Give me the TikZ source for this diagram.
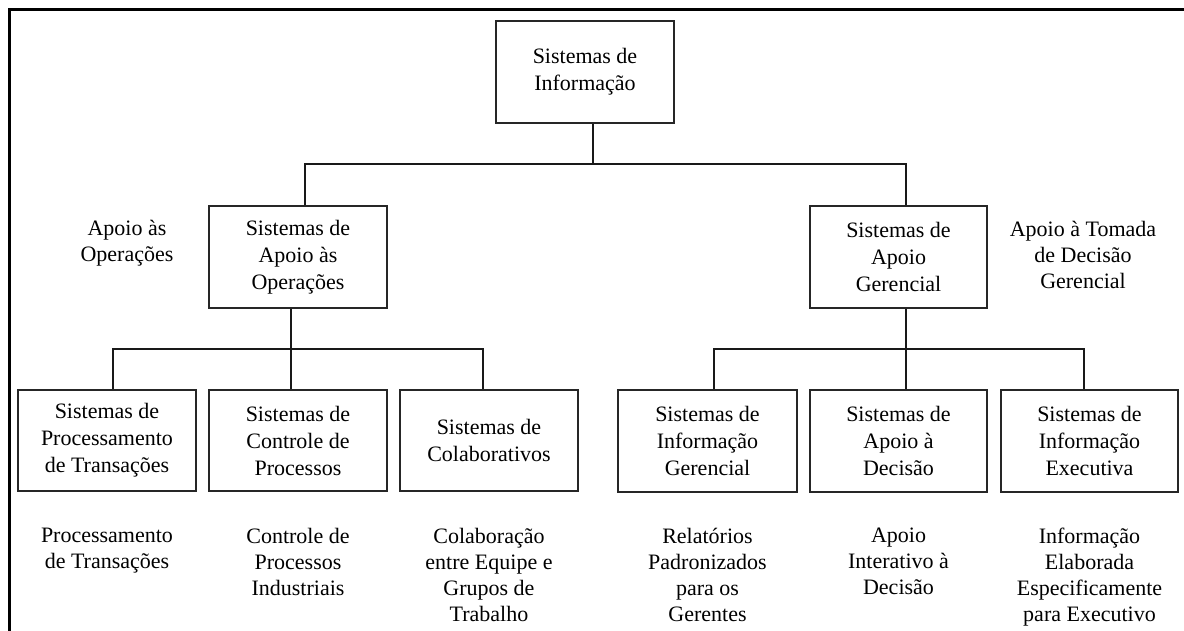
\documentclass[tikz,border=0pt]{standalone}
\usepackage{fontspec}
\setmainfont{Liberation Serif}
\usetikzlibrary{calc}
\begin{document}
\begin{tikzpicture}[x=1pt,y=-1pt,
  sysbox/.style={draw=black!85, line width=1.6pt, fill=white,
    minimum width=178pt, minimum height=102pt, inner sep=0pt,
    align=center, font=\fontsize{22}{27}\selectfont},
  note/.style={inner sep=0pt, align=center, font=\fontsize{22}{26}\selectfont},
  link/.style={line width=1.6pt, black!90}]
\useasboundingbox (0,0) rectangle (1184,631);
% frame: left and top edges, running off the page at bottom and right
\draw[line width=3pt] (9.5,631) -- (9.5,10) -- (1184,10);

% boxes
\node[sysbox] (top) at (585,72) {Sistemas de\\Informação};
\node[sysbox] (opA) at (298,257) {Sistemas de\\Apoio às\\Operações};
\node[sysbox, minimum width=177pt] (ger) at (898.5,257) {Sistemas de\\Apoio\\Gerencial};
\node[sysbox, minimum height=101pt] (b1) at (107,440.5) {Sistemas de\\Processamento\\de Transações};
\node[sysbox, minimum height=101pt] (b2) at (298,440.5) {Sistemas de\\Controle de\\Processos};
\node[sysbox, minimum height=101pt] (b3) at (489,440.5) {Sistemas de\\Colaborativos};
\node[sysbox, minimum width=179pt] (b4) at (707.5,441) {Sistemas de\\Informação\\Gerencial};
\node[sysbox, minimum width=177pt] (b5) at (898.5,441) {Sistemas de\\Apoio à\\Decisão};
\node[sysbox, minimum width=177pt] (b6) at (1089.5,441) {Sistemas de\\Informação\\Executiva};

% side labels
\node[note] (lblOp) at (127,243) {Apoio às\\Operações};
\node[note] (lblGer) at (1083,255) {Apoio à Tomada\\de Decisão\\Gerencial};

% descriptions under the lower boxes
\node[note, anchor=north] (d1) at (107,528) {Processamento\\de Transações};
\node[note, anchor=north] (d2) at (298,528) {Controle de\\Processos\\Industriais};
\node[note, anchor=north] (d3) at (489,528) {Colaboração\\entre Equipe e\\Grupos de\\Trabalho};
\node[note, anchor=north] (d4) at (707.5,528) {Relatórios\\Padronizados\\para os\\Gerentes};
\node[note, anchor=north] (d5) at (898.5,528) {Apoio\\Interativo à\\Decisão};
\node[note, anchor=north] (d6) at (1089.5,528) {Informação\\Elaborada\\Especificamente\\para Executivo};

% bus levels
\coordinate (busTop) at (0,164);
\coordinate (busLow) at (0,349);

% top level
\coordinate (t0) at ($(top.south)+(8,0)$);
\coordinate (a0) at ($(opA.north)+(7,0)$);
\coordinate (g0) at ($(ger.north)+(7.5,0)$);
\draw[link] (t0) -- (t0 |- busTop);
\draw[link] (a0) -- (a0 |- busTop) -- (g0 |- busTop) -- (g0);

% operations branch
\coordinate (a1) at ($(opA.south)+(-7,0)$);
\coordinate (p1) at ($(b1.north)+(6,0)$);
\coordinate (p2) at ($(b2.north)+(-7,0)$);
\coordinate (p3) at ($(b3.north)+(-6,0)$);
\draw[link] (a1) -- (p2);
\draw[link] (p1) -- (p1 |- busLow) -- (p3 |- busLow) -- (p3);

% management branch
\coordinate (g1) at ($(ger.south)+(7.5,0)$);
\coordinate (q1) at ($(b4.north)+(6.5,0)$);
\coordinate (q2) at ($(b5.north)+(7.5,0)$);
\coordinate (q3) at ($(b6.north)+(-5.5,0)$);
\draw[link] (g1) -- (q2);
\draw[link] (q1) -- (q1 |- busLow) -- (q3 |- busLow) -- (q3);
\end{tikzpicture}
\end{document}
